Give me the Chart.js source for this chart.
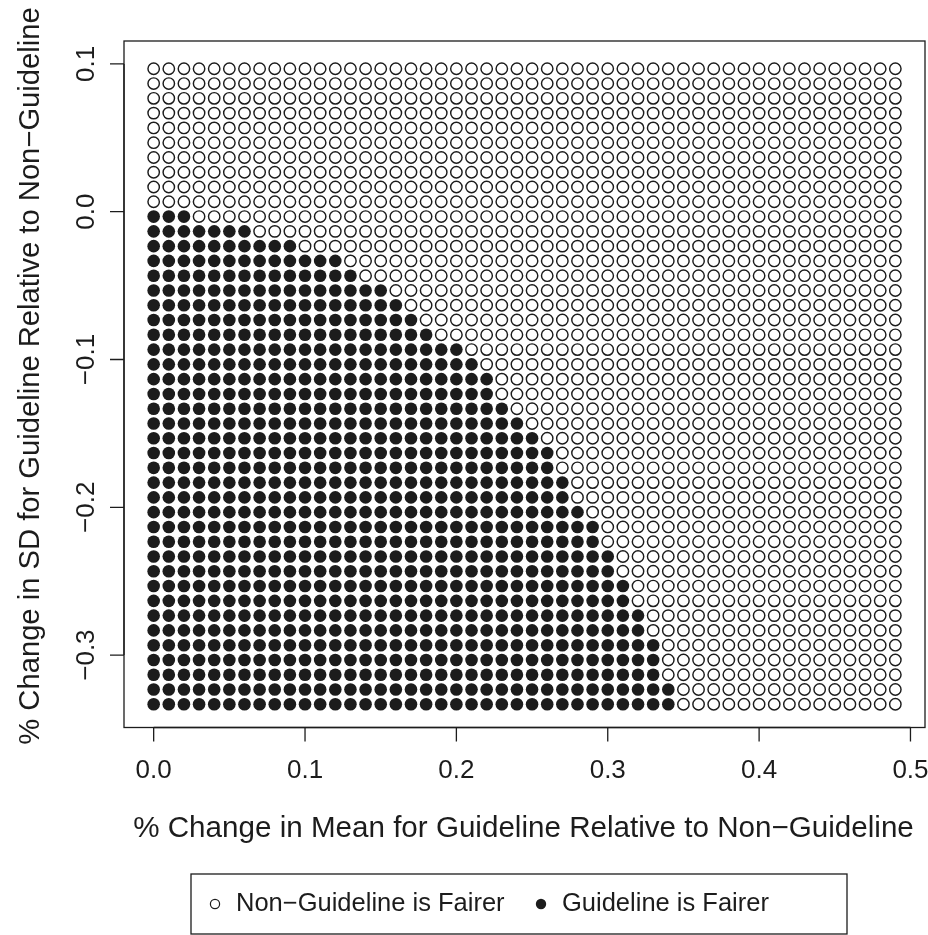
<!DOCTYPE html>
<html lang="en">
<head>
<meta charset="UTF-8">
<title>Guideline vs Non-Guideline fairness</title>
<script src="https://cdn.jsdelivr.net/npm/chart.js"></script>
<style>
  html, body { margin: 0; padding: 0; background: #fff; }
  #wrap { width: 928px; height: 935px; }
</style>
</head>
<body>
<div id="wrap"><canvas id="grid" width="928" height="935"></canvas></div>
<script>
  // % change in mean for guideline relative to non-guideline (columns)
  const meanChange = [
    0.00, 0.01, 0.02, 0.03, 0.04, 0.05, 0.06, 0.07, 0.08, 0.09,
    0.10, 0.11, 0.12, 0.13, 0.14, 0.15, 0.16, 0.17, 0.18, 0.19,
    0.20, 0.21, 0.22, 0.23, 0.24, 0.25, 0.26, 0.27, 0.28, 0.29,
    0.30, 0.31, 0.32, 0.33, 0.34, 0.35, 0.36, 0.37, 0.38, 0.39,
    0.40, 0.41, 0.42, 0.43, 0.44, 0.45, 0.46, 0.47, 0.48, 0.49
  ];

  // % change in SD for guideline relative to non-guideline (rows, top to bottom)
  const sdChange = [
     0.0967,  0.0867,  0.0767,  0.0667,  0.0567,  0.0467,  0.0367,  0.0267,  0.0167,  0.0067,
    -0.0033, -0.0133, -0.0233, -0.0333, -0.0433, -0.0533, -0.0633, -0.0733, -0.0833, -0.0933,
    -0.1033, -0.1133, -0.1233, -0.1333, -0.1433, -0.1533, -0.1633, -0.1733, -0.1833, -0.1933,
    -0.2033, -0.2133, -0.2233, -0.2333, -0.2433, -0.2533, -0.2633, -0.2733, -0.2833, -0.2933,
    -0.3033, -0.3133, -0.3233, -0.3333
  ];

  // per row: how many columns (from mean change 0.00 upward) have the guideline fairer
  const guidelineFairerCount = [
     0,  0,  0,  0,  0,  0,  0,  0,  0,  0,
     3,  7, 10, 13, 14, 16, 17, 18, 19, 21,
    22, 23, 23, 24, 25, 26, 27, 27, 28, 28,
    29, 30, 30, 31, 31, 32, 32, 33, 33, 34,
    34, 34, 35, 35
  ];

  const xTicks = [0.0, 0.1, 0.2, 0.3, 0.4, 0.5];
  const yTicks = [-0.3, -0.2, -0.1, 0.0, 0.1];
  const seriesLabels = ['Non\u2212Guideline is Fairer', 'Guideline is Fairer'];
  const xTitle = '% Change in Mean for Guideline Relative to Non\u2212Guideline';
  const yTitle = '% Change in SD for Guideline Relative to Non\u2212Guideline';

  const ink = '#1c1c1c';
  const font = 'Liberation Sans, Arial, Helvetica, sans-serif';

  // split the grid into the two outcome groups
  const openPts = [], filledPts = [];
  sdChange.forEach((y, r) => {
    meanChange.forEach((x, c) => {
      (c < guidelineFairerCount[r] ? filledPts : openPts).push({ x, y });
    });
  });

  const fmt = v => v.toFixed(1).replace('-', '\u2212');

  // base-graphics style frame, axes, titles and legend
  const rFrame = {
    id: 'rFrame',
    afterDraw(chart) {
      const { ctx, chartArea: a, scales: { x, y } } = chart;
      ctx.save();
      ctx.strokeStyle = ink;
      ctx.fillStyle = ink;
      ctx.lineWidth = 1.3;

      // box
      ctx.strokeRect(a.left, a.top, a.right - a.left, a.bottom - a.top);

      // x axis
      const tl = 14;
      ctx.beginPath();
      ctx.moveTo(x.getPixelForValue(xTicks[0]), a.bottom);
      ctx.lineTo(x.getPixelForValue(xTicks[xTicks.length - 1]), a.bottom);
      xTicks.forEach(v => {
        const px = x.getPixelForValue(v);
        ctx.moveTo(px, a.bottom);
        ctx.lineTo(px, a.bottom + tl);
      });
      // y axis
      ctx.moveTo(a.left, y.getPixelForValue(yTicks[0]));
      ctx.lineTo(a.left, y.getPixelForValue(yTicks[yTicks.length - 1]));
      yTicks.forEach(v => {
        const py = y.getPixelForValue(v);
        ctx.moveTo(a.left, py);
        ctx.lineTo(a.left - tl, py);
      });
      ctx.stroke();

      // tick labels
      ctx.font = '26px ' + font;
      ctx.textAlign = 'center';
      ctx.textBaseline = 'middle';
      xTicks.forEach(v => ctx.fillText(fmt(v), x.getPixelForValue(v), 771));
      yTicks.forEach(v => {
        ctx.save();
        ctx.translate(87, y.getPixelForValue(v));
        ctx.rotate(-Math.PI / 2);
        ctx.fillText(fmt(v), 0, 0);
        ctx.restore();
      });

      // axis titles
      ctx.font = '29.6px ' + font;
      ctx.fillText(xTitle, (a.left + a.right) / 2 - 1, 829);
      ctx.font = '29.2px ' + font;
      ctx.save();
      ctx.translate(31, 376);
      ctx.rotate(-Math.PI / 2);
      ctx.fillText(yTitle, 0, 0);
      ctx.restore();

      // legend
      const lg = { left: 191, top: 874, right: 847, bottom: 934 };
      const ly = (lg.top + lg.bottom) / 2;
      ctx.lineWidth = 1.3;
      ctx.strokeRect(lg.left, lg.top, lg.right - lg.left, lg.bottom - lg.top);
      ctx.font = '25.5px ' + font;
      ctx.textAlign = 'left';
      ctx.lineWidth = 1.2;
      ctx.beginPath();
      ctx.arc(215, ly, 4.6, 0, Math.PI * 2);
      ctx.stroke();
      ctx.fillText(seriesLabels[0], 236, ly);
      ctx.beginPath();
      ctx.arc(541, ly, 5.2, 0, Math.PI * 2);
      ctx.fill();
      ctx.fillText(seriesLabels[1], 562, ly);

      ctx.restore();
    }
  };

  new Chart(document.getElementById('grid'), {
    type: 'scatter',
    data: {
      datasets: [
        {
          label: seriesLabels[0],
          data: openPts,
          pointStyle: 'circle',
          pointRadius: 5.7,
          pointBorderWidth: 1.45,
          borderColor: ink,
          backgroundColor: 'rgba(0,0,0,0)'
        },
        {
          label: seriesLabels[1],
          data: filledPts,
          pointStyle: 'circle',
          pointRadius: 6.3,
          pointBorderWidth: 0,
          borderColor: ink,
          backgroundColor: ink
        }
      ]
    },
    options: {
      responsive: false,
      animation: false,
      devicePixelRatio: 1,
      layout: { autoPadding: false, padding: { left: 124, right: 3, top: 41, bottom: 207.5 } },
      plugins: { legend: { display: false }, tooltip: { enabled: false } },
      scales: {
        x: { type: 'linear', display: false, min: -0.0196, max: 0.5096 },
        y: { type: 'linear', display: false, min: -0.349, max: 0.1155 }
      }
    },
    plugins: [rFrame]
  });
</script>
</body>
</html>
